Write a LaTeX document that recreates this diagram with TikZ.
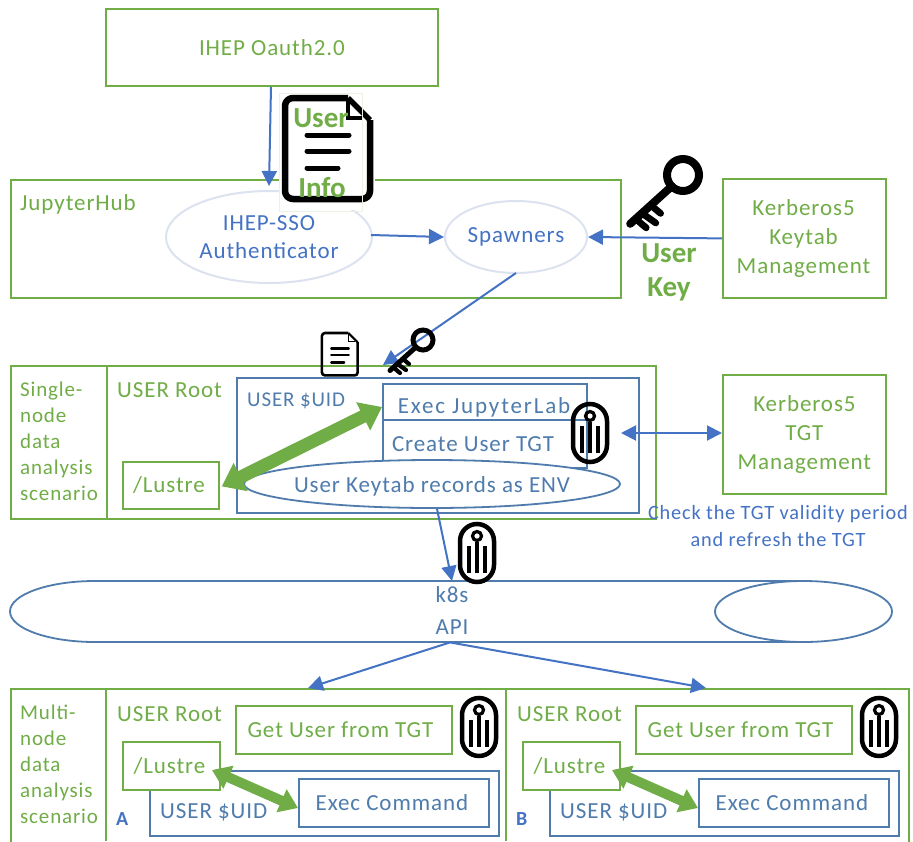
\documentclass[tikz,border=0pt]{standalone}
\usepackage{fontspec}
\setmainfont{Carlito}
\usetikzlibrary{arrows.meta,shapes.geometric}
\definecolor{gr}{HTML}{70AD47}
\definecolor{bl}{HTML}{4472C4}
\definecolor{sb}{HTML}{4F7CAC}
\definecolor{lav}{HTML}{DDE2F0}
\tikzset{
 x=1pt,y=-1pt,
 txt/.style={font=\fontsize{23}{26}\selectfont\addfontfeature{LetterSpace=4},inner sep=0pt,align=center},
 smtxt/.style={font=\fontsize{21}{26}\selectfont\addfontfeature{LetterSpace=4},inner sep=0pt},
 gbox/.style={draw=gr,line width=1.8pt,anchor=north west,inner sep=0pt,txt,text=gr},
 bbox/.style={draw=sb,line width=1.8pt,anchor=north west,inner sep=0pt,txt,text=sb},
 gt/.style={txt,text=gr},
 bt/.style={txt,text=bl},
 st/.style={txt,text=sb},
 con/.style={draw=bl,line width=2pt,-{Triangle[length=15pt,width=15pt]}},
 keypic/.pic={
  \draw[line width=#1*0.5pt,black] (0,0) circle[radius=#1];
  \draw[line width=#1*0.5pt,black,line cap=round] (-.7*#1,.7*#1) -- (-3.3*#1,3.05*#1);
  \draw[line width=#1*0.42pt,black,line cap=round] (-2.0*#1,1.9*#1) -- (-1.4*#1,2.4*#1);
  \draw[line width=#1*0.42pt,black,line cap=round] (-2.55*#1,2.4*#1) -- (-1.7*#1,3.0*#1);
  \draw[line width=#1*0.42pt,black,line cap=round] (-2.95*#1,2.75*#1) -- (-2.3*#1,3.3*#1);
 },
 tagpic/.pic={
  \draw[line width=4.5pt,black,rounded corners=17pt] (-17,-29) rectangle (17,29);
  \draw[line width=3.2pt,black] (0,-17) circle[radius=4.5];
  \draw[line width=3.4pt,black] (0,-11) -- (0,20);
  \draw[line width=3.4pt,black] (-8,-7) -- (-8,20);
  \draw[line width=3.4pt,black] (8,-7) -- (8,20);
 },
}
\begin{document}
\begin{tikzpicture}
\useasboundingbox (0,0) rectangle (913,841);
\fill[white] (0,0) rectangle (913,841);

% top
\node[gbox,minimum width=332pt,minimum height=77pt] (oauth) at (105,8) {IHEP Oauth2.0};
\node[gbox,minimum width=610pt,minimum height=118pt] (hub) at (10,179) {};
\node[gt,anchor=west] (hubl) at (20,204) {JupyterHub};
\node[ellipse,draw=lav,line width=2pt,minimum width=206pt,minimum height=92pt,inner sep=0pt] (sso) at (269,237) {};
\node[bt] (ssot) at (269,237) {IHEP-SSO\\[2pt]Authenticator};
\node[ellipse,draw=lav,line width=2pt,minimum width=142pt,minimum height=72pt,inner sep=0pt] (spawn) at (516,237) {};
\node[bt] (spawnt) at (516,237) {Spawners};
\node[gbox,minimum width=163pt,minimum height=119pt] (keytab) at (722,178) {};
\node[gt] (keytabt) at (803.5,238) {Kerberos5\\[3pt]Keytab\\[3pt]Management};

% single node
\node[gbox,minimum width=645pt,minimum height=153pt] (single) at (10,365) {};
\node[gbox,minimum width=549pt,minimum height=153pt] (singlein) at (106,365) {};
\node[gt,smtxt,anchor=west,align=left] (singlel) at (20,441) {Single-\\node\\data\\analysis\\scenario};
\node[gt,anchor=west] (rootone) at (117,390) {USER Root};
\node[bbox,minimum width=402pt,minimum height=135pt] (uid) at (236,377) {};
\node[st,smtxt,anchor=west] (uidt) at (247,401) {USER \$UID};
\node[bbox,minimum width=204pt,minimum height=36pt] (exec) at (382,383) {};
\node[st,font=\fontsize{23}{26}\selectfont\addfontfeature{LetterSpace=8}] (exect) at (484,407) {Exec JupyterLab};
\node[bbox,minimum width=204pt,minimum height=48pt] (create) at (382,419) {};
\node[st] (createt) at (473,444) {Create User TGT};
\node[ellipse,draw=sb,line width=1.8pt,fill=white,minimum width=376pt,minimum height=48pt,inner sep=0pt] (env) at (432,484) {};
\node[st] (envt) at (432,486) {User Keytab records as ENV};
\node[gbox,minimum width=96pt,minimum height=47pt] (lus) at (122,461) {/Lustre\hspace*{4pt}};
\node[gbox,minimum width=163pt,minimum height=119pt] (tgt) at (722,374) {Kerberos5\\[3pt]TGT\\[3pt]Management};
\node[bt,font=\fontsize{20.3}{26}\selectfont\addfontfeature{LetterSpace=4}] (chk) at (778,526) {Check the TGT validity period\\[1pt]and refresh the TGT};

% k8s
\node[minimum width=882pt,minimum height=61pt,anchor=north west,inner sep=0pt] (k8s) at (10,581) {};
\draw[draw=sb,line width=1.8pt] (803,581) -- (95,581) arc[start angle=90,end angle=270,x radius=85,y radius=-30.5] -- (803,642);
\node[ellipse,draw=sb,line width=1.8pt,minimum width=177pt,minimum height=61pt,inner sep=0pt] (k8se) at (803.5,611.5) {};
\node[st] (k8st) at (452,611) {k8s\\[6pt]API};

% multi
\node[gbox,minimum width=898pt,minimum height=158pt] (multi) at (10,688) {};
\draw[gr,line width=1.8pt] (106,688) -- (106,841);
\draw[gr,line width=1.8pt] (506,688) -- (506,841);
\node[gt,smtxt,anchor=west,align=left] (multil) at (20,764) {Multi-\\node\\data\\analysis\\scenario};
\node[gt,anchor=west] (roota) at (117,714) {USER Root};
\node[gbox,minimum width=216pt,minimum height=48pt] (geta) at (235,705) {Get User from TGT\hspace*{7pt}};
\node[bbox,minimum width=349pt,minimum height=65pt] (uida) at (149,770) {};
\node[gbox,minimum width=97pt,minimum height=48pt,fill=white] (lusa) at (122,741) {/Lustre\hspace*{4pt}};
\node[st,anchor=west] (uidat) at (160,812) {USER \$UID};
\node[bbox,minimum width=190pt,minimum height=48pt] (execa) at (298,778) {Exec Command\hspace*{4pt}};
\node[anchor=west,text=bl,inner sep=0pt,font=\fontsize{20}{22}\selectfont\bfseries] (a) at (116,819) {A};
\node[gt,anchor=west] (rootb) at (517,714) {USER Root};
\node[gbox,minimum width=216pt,minimum height=48pt] (getb) at (635,705) {Get User from TGT\hspace*{7pt}};
\node[bbox,minimum width=349pt,minimum height=65pt] (uidb) at (549,770) {};
\node[gbox,minimum width=97pt,minimum height=48pt,fill=white] (lusb) at (522,741) {/Lustre\hspace*{4pt}};
\node[st,anchor=west] (uidbt) at (560,812) {USER \$UID};
\node[bbox,minimum width=190pt,minimum height=48pt] (execb) at (698,778) {Exec Command\hspace*{4pt}};
\node[anchor=west,text=bl,inner sep=0pt,font=\fontsize{20}{22}\selectfont\bfseries] (b) at (516,819) {B};

% connectors
\draw[con] (oauth.south -| 271,0) -- ([yshift=4pt]sso.north);
\draw[con] ([xshift=-2pt,yshift=2pt]sso.east) -- (spawn.west);
\draw[con] (keytab.west) -- (spawn.east);
\draw[con] ([yshift=1pt]spawn.south) -- (383,365);
\draw[con] (env.south -| 437,0) -- (k8s.north -| 452,0);
\draw[con] (k8s.south -| 450,0) -- (multi.north -| 308,0);
\draw[con] (k8s.south -| 450,0) -- (multi.north -| 706,0);
\draw[draw=bl,line width=2pt,{Triangle[length=15pt,width=15pt]}-{Triangle[length=15pt,width=15pt]}] (621,433) -- (tgt.west |- 0,433);

% fat double arrows
\draw[gr,line width=13pt,{Triangle[length=21pt,width=30pt,inset=0pt]}-{Triangle[length=21pt,width=30pt,inset=0pt]}] ([xshift=2pt,yshift=-1pt]lus.east) -- (exec.west |- 0,407);
\draw[gr,line width=10pt,{Triangle[length=18pt,width=24pt]}-{Triangle[length=18pt,width=24pt]}] (212,770) -- (execa.west |- 0,808);
\draw[gr,line width=10pt,{Triangle[length=18pt,width=24pt]}-{Triangle[length=18pt,width=24pt]}] (612,770) -- (execb.west |- 0,808);

% document icon large
\fill[white] (279,93) rectangle (375,210);
\begin{scope}[shift={(328,148)}]
\draw[black,line width=6.5pt,line join=round,rounded corners=8pt] (20,-50) -- (-43,-50) -- (-43,51) -- (42,51) -- (42,-28);
\draw[black,line width=5.5pt,line join=round] (20,-50) -- (42,-28);
\draw[black,line width=4.5pt] (20,-50) -- (20,-30) -- (35,-30);
\draw[black,line width=5pt,line cap=round] (-21,-13) -- (21,-13);
\draw[black,line width=5pt,line cap=round] (-21,3) -- (21,3);
\draw[black,line width=5pt,line cap=round] (-21,20) -- (10,20);
\end{scope}
\draw[gr!15,line width=1pt] (279,93) rectangle (362,211);
\node[txt,font=\fontsize{29}{30}\selectfont\bfseries,text=gr] (user) at (321,118) {User};
\node[txt,font=\fontsize{29}{30}\selectfont\bfseries,text=gr] (info) at (322,188) {Info};

% document icon small
\begin{scope}[shift={(340,354)},scale=.42]
\draw[black,line width=2.6pt,line join=round,rounded corners=3pt] (20,-50) -- (-43,-50) -- (-43,51) -- (42,51) -- (42,-28);
\draw[black,line width=2.2pt,line join=round] (20,-50) -- (42,-28);
\draw[black,line width=1.8pt] (20,-50) -- (20,-30) -- (35,-30);
\draw[black,line width=2.2pt,line cap=round] (-21,-13) -- (21,-13);
\draw[black,line width=2.2pt,line cap=round] (-21,3) -- (21,3);
\draw[black,line width=2.2pt,line cap=round] (-21,20) -- (10,20);
\end{scope}

% keys
\pic at (683,175) {keypic=16};
\pic at (423,340) {keypic=10};
\node[txt,font=\fontsize{29}{34}\selectfont\bfseries,text=gr] (ukey) at (669,272) {User\\Key};

% tags
\pic at (590,433) {tagpic};
\pic at (477,553) {tagpic};
\pic at (479,727) {tagpic};
\pic at (879,727) {tagpic};
\end{tikzpicture}
\end{document}
